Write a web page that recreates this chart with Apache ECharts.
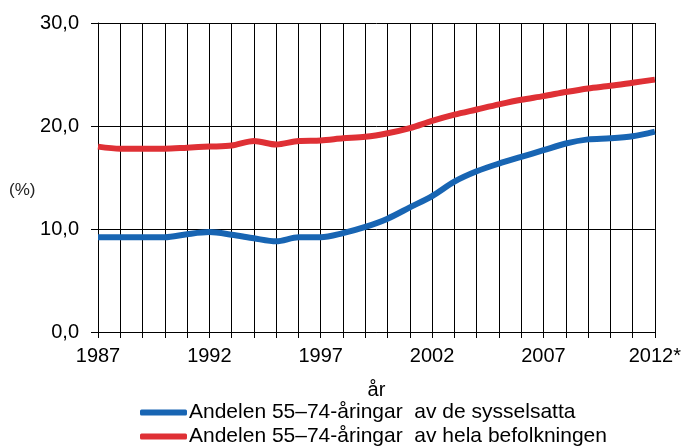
<!DOCTYPE html>
<html>
<head>
<meta charset="utf-8">
<script src="https://cdn.jsdelivr.net/npm/echarts@6/dist/echarts.min.js"></script>
<style>
  html, body { margin: 0; padding: 0; background: #fff; }
  #chart { width: 684px; height: 447px; }
</style>
</head>
<body>
<div id="chart"></div>
<script>
// år 1987-2012 (2012 preliminär)
var years = ['1987', '1988', '1989', '1990', '1991', '1992', '1993', '1994', '1995', '1996',
  '1997', '1998', '1999', '2000', '2001', '2002', '2003', '2004', '2005', '2006',
  '2007', '2008', '2009', '2010', '2011', '2012*'];

// Andelen 55–74-åringar av de sysselsatta (%)
var sysselsatta = [9.2, 9.2, 9.2, 9.2, 9.5, 9.7, 9.45, 9.1, 8.8, 9.2,
  9.2, 9.6, 10.2, 11.0, 12.1, 13.2, 14.6, 15.6, 16.35, 17.0,
  17.65, 18.3, 18.7, 18.8, 19.0, 19.45];

// Andelen 55–74-åringar av hela befolkningen (%)
var befolkningen = [18.0, 17.8, 17.8, 17.8, 17.9, 18.0, 18.1, 18.55, 18.2, 18.55,
  18.6, 18.8, 18.95, 19.3, 19.8, 20.5, 21.1, 21.6, 22.1, 22.55,
  22.9, 23.3, 23.65, 23.9, 24.2, 24.5];

var seriesNames = [
  'Andelen 55\u201374-åringar  av de sysselsatta',
  'Andelen 55\u201374-åringar  av hela befolkningen'
];

var font = 'Liberation Sans, Arial, sans-serif';

var chart = echarts.init(document.getElementById('chart'));
chart.setOption({
  animation: false,
  backgroundColor: '#fff',
  grid: { left: 98, right: 26, top: 23, bottom: 115 },
  graphic: [{
    type: 'text',
    left: 9,
    top: 182,
    style: { text: '(%)', font: '17px ' + font, fill: '#222' }
  }],
  legend: {
    orient: 'vertical',
    left: 140,
    top: 402,
    height: 60,
    padding: 0,
    itemWidth: 47,
    itemHeight: 6,
    itemGap: 3,
    icon: 'roundRect',
    textStyle: { fontFamily: font, fontSize: 21, color: '#000', padding: [0, 0, 0, -3] },
    data: seriesNames
  },
  xAxis: {
    type: 'category',
    boundaryGap: false,
    data: years,
    name: 'år',
    nameLocation: 'middle',
    nameGap: 48,
    nameTextStyle: { fontFamily: font, fontSize: 20, color: '#000' },
    axisLine: { lineStyle: { color: '#000', width: 1 } },
    axisTick: { show: true, interval: 0, length: 6, lineStyle: { color: '#000' } },
    axisLabel: { interval: 4, fontFamily: font, fontSize: 20, color: '#000', margin: 14 },
    splitLine: { show: true, interval: 0, lineStyle: { color: '#000', width: 1 } }
  },
  yAxis: {
    type: 'value',
    min: 0,
    max: 30,
    interval: 10,
    axisLine: { show: true, lineStyle: { color: '#000', width: 1 } },
    axisTick: { show: true, length: 7, lineStyle: { color: '#000' } },
    axisLabel: {
      fontFamily: font, fontSize: 20, color: '#000', margin: 19,
      formatter: function (v) { return v.toFixed(1).replace('.', ','); }
    },
    splitLine: { show: true, lineStyle: { color: '#000', width: 1 } }
  },
  series: [
    {
      name: seriesNames[0],
      type: 'line',
      data: sysselsatta,
      smooth: 0.3,
      symbol: 'none',
      color: '#1865b3',
      lineStyle: { width: 6, color: '#1865b3' }
    },
    {
      name: seriesNames[1],
      type: 'line',
      data: befolkningen,
      smooth: 0.3,
      symbol: 'none',
      color: '#df3035',
      lineStyle: { width: 6, color: '#df3035' }
    }
  ]
});
</script>
</body>
</html>
